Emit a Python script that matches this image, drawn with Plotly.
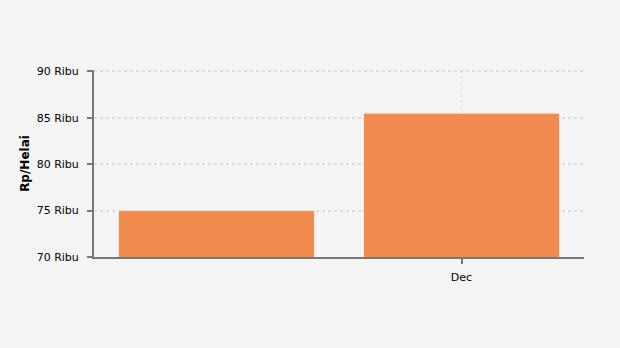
import plotly.graph_objects as go

categories = ["Nov", "Dec"]
values = [75.0, 85.5]
tick_vals = [70, 75, 80, 85, 90]
tick_text = ["70 Ribu", "75 Ribu", "80 Ribu", "85 Ribu", "90 Ribu"]
x_tick_labels = ["Dec"]

fig = go.Figure()
fig.add_trace(go.Bar(
    x=categories, y=values, width=0.8,
    marker=dict(color="rgb(242,139,79)", line=dict(color="rgba(255,235,220,0.9)", width=1)),
    hoverinfo="x+y",
))

fig.update_layout(
    width=620, height=348,
    margin=dict(l=94, r=36, t=70, b=91),
    paper_bgcolor="#f4f4f4", plot_bgcolor="#f4f4f4",
    font=dict(family="DejaVu Sans, Verdana, sans-serif", size=11, color="#000"),
    showlegend=False,
    bargap=0.2,
)
fig.update_xaxes(
    type="category", range=[-0.5, 1.5],
    tickvals=x_tick_labels, ticktext=x_tick_labels,
    showline=True, linecolor="#777", linewidth=2,
    ticks="outside", ticklen=5, tickwidth=2, tickcolor="#777",
    showgrid=True, gridcolor="#dcdcdc", gridwidth=1, griddash="dot",
    tickfont=dict(size=11), ticklabelstandoff=4,
    zeroline=False, fixedrange=True,
)
fig.update_yaxes(
    range=[70, 90.15], tickvals=tick_vals, ticktext=tick_text,
    showline=True, linecolor="#777", linewidth=2,
    ticks="outside", ticklen=5, tickwidth=2, tickcolor="#777",
    showgrid=True, gridcolor="#dcdcdc", gridwidth=2, griddash="dot",
    tickfont=dict(size=11), ticklabelstandoff=6,
    title=dict(text="<b>Rp/Helai</b>", font=dict(size=12), standoff=4),
    zeroline=False, fixedrange=True,
)

fig.write_html("out.html", config={"displayModeBar": False})
